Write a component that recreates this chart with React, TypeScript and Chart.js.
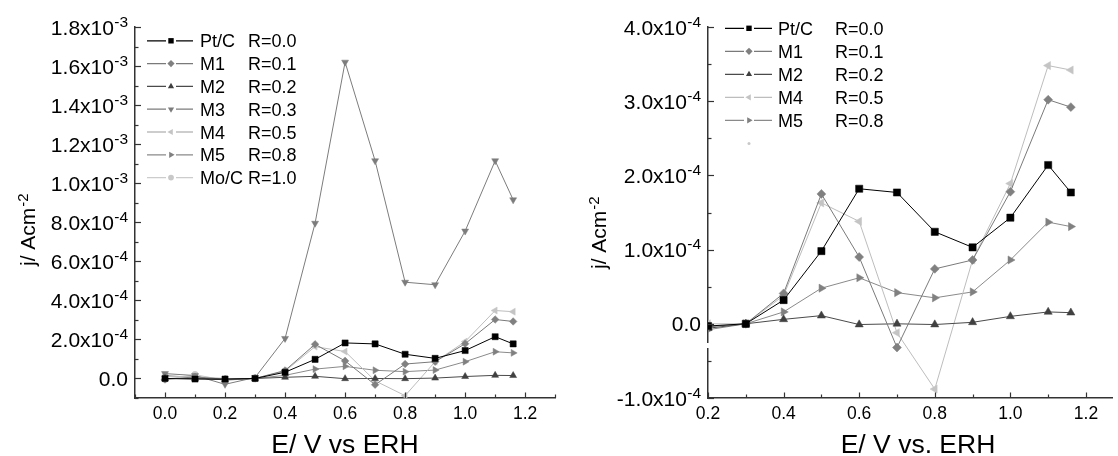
import React, { useEffect, useRef } from 'react';
import { Chart, registerables } from 'chart.js';

Chart.register(...registerables);

const FONT = '"Liberation Sans", Arial, Helvetica, sans-serif';

// ---------- data ----------
const xValues = [0.0, 0.1, 0.2, 0.3, 0.4, 0.5, 0.6, 0.7, 0.8, 0.9, 1.0, 1.1, 1.16];
const ptC = [0.0, -0.03e-4, -0.03e-4, 0.0, 0.32e-4, 0.98e-4, 1.82e-4, 1.77e-4, 1.24e-4, 1.03e-4, 1.43e-4, 2.14e-4, 1.77e-4];
const m1 = [-0.05e-4, 0.08e-4, -0.04e-4, 0.0, 0.41e-4, 1.75e-4, 0.9e-4, -0.32e-4, 0.74e-4, 0.86e-4, 1.78e-4, 3.02e-4, 2.92e-4];
const m2 = [0.0, 0.0, -0.06e-4, 0.0, 0.06e-4, 0.11e-4, -0.01e-4, 0.0, -0.01e-4, 0.02e-4, 0.1e-4, 0.16e-4, 0.15e-4];
const m3 = [0.25e-4, 0.15e-4, -0.3e-4, 0.05e-4, 2.05e-4, 7.95e-4, 16.2e-4, 11.15e-4, 4.93e-4, 4.8e-4, 7.55e-4, 11.15e-4, 9.15e-4];
const m4 = [0.1e-4, 0.1e-4, 0.0, 0.0, 0.38e-4, 1.63e-4, 1.38e-4, -0.12e-4, -0.88e-4, 0.86e-4, 1.89e-4, 3.48e-4, 3.42e-4];
const m5 = [0.15e-4, 0.05e-4, -0.08e-4, 0.0, 0.16e-4, 0.48e-4, 0.62e-4, 0.42e-4, 0.35e-4, 0.43e-4, 0.86e-4, 1.37e-4, 1.31e-4];
const moC = [-0.05e-4, 0.2e-4, -0.1e-4, 0.02e-4, null, null, null, null, null, null, null, null, null];

const seriesNames = ['Pt/C', 'M1', 'M2', 'M3', 'M4', 'M5', 'Mo/C'];
const seriesRatios = ['R=0.0', 'R=0.1', 'R=0.2', 'R=0.3', 'R=0.5', 'R=0.8', 'R=1.0'];
const seriesValues = [ptC, m1, m2, m3, m4, m5, moC];
const markerColors = ['#000000', '#808080', '#404040', '#7c7c7c', '#c4c4c4', '#808080', '#c8c8c8'];
const lineColors = ['#000000', '#7a7a7a', '#4a4a4a', '#7c7c7c', '#bdbdbd', '#8a8a8a', '#cccccc'];
const shapes = ['square', 'diamond', 'triUp', 'triDown', 'triLeft', 'triRight', 'circle'];
const rightSeries = [0, 1, 2, 4, 5];
const rightStartIndex = 2;

// tick labels
const leftYTicks = [0, 2e-4, 4e-4, 6e-4, 8e-4, 1.0e-3, 1.2e-3, 1.4e-3, 1.6e-3, 1.8e-3];
const leftYMain = ['0.0', '2.0x10', '4.0x10', '6.0x10', '8.0x10', '1.0x10', '1.2x10', '1.4x10', '1.6x10', '1.8x10'];
const leftYSup = ['', '-4', '-4', '-4', '-4', '-3', '-3', '-3', '-3', '-3'];
const leftYMinor = [-1e-4, 1e-4, 3e-4, 5e-4, 7e-4, 9e-4, 1.1e-3, 1.3e-3, 1.5e-3, 1.7e-3];
const leftXTicks = [0.0, 0.2, 0.4, 0.6, 0.8, 1.0, 1.2];
const leftXLabels = ['0.0', '0.2', '0.4', '0.6', '0.8', '1.0', '1.2'];
const leftXMinor = [-0.1, 0.1, 0.3, 0.5, 0.7, 0.9, 1.1, 1.3];

const rightYTicks = [-1e-4, 0, 1e-4, 2e-4, 3e-4, 4e-4];
const rightYMain = ['-1.0x10', '0.0', '1.0x10', '2.0x10', '3.0x10', '4.0x10'];
const rightYSup = ['-4', '', '-4', '-4', '-4', '-4'];
const rightYMinor = [-0.5e-4, 0.5e-4, 1.5e-4, 2.5e-4, 3.5e-4];
const rightXTicks = [0.2, 0.4, 0.6, 0.8, 1.0, 1.2];
const rightXLabels = ['0.2', '0.4', '0.6', '0.8', '1.0', '1.2'];
const rightXMinor = [0.3, 0.5, 0.7, 0.9, 1.1];

const yTitleMain = 'j/ Acm';
const yTitleSup = '-2';
const leftXTitle = 'E/ V vs ERH';
const rightXTitle = 'E/ V vs. ERH';

// ---------- helpers ----------
function drawShape(ctx: CanvasRenderingContext2D, shape: string, x: number, y: number, r: number, color: string) {
  ctx.save();
  ctx.fillStyle = color;
  ctx.beginPath();
  const tri = (rot: number) => {
    for (let k = 0; k < 3; k++) {
      const a = rot + (k * 2 * Math.PI) / 3;
      const px = x + Math.sin(a) * r;
      const py = y - Math.cos(a) * r;
      if (k === 0) ctx.moveTo(px, py);
      else ctx.lineTo(px, py);
    }
    ctx.closePath();
  };
  if (shape === 'square') {
    const s = r * 0.75;
    ctx.rect(x - s, y - s, 2 * s, 2 * s);
  } else if (shape === 'diamond') {
    ctx.moveTo(x, y - r);
    ctx.lineTo(x + r, y);
    ctx.lineTo(x, y + r);
    ctx.lineTo(x - r, y);
    ctx.closePath();
  } else if (shape === 'triUp') tri(0);
  else if (shape === 'triDown') tri(Math.PI);
  else if (shape === 'triLeft') tri(-Math.PI / 2);
  else if (shape === 'triRight') tri(Math.PI / 2);
  else ctx.arc(x, y, r * 0.8, 0, Math.PI * 2);
  ctx.fill();
  ctx.restore();
}

function pointStyleFor(shape: string): { style: any; rotation: number } {
  switch (shape) {
    case 'square': return { style: 'rect', rotation: 0 };
    case 'diamond': return { style: 'rectRot', rotation: 0 };
    case 'triUp': return { style: 'triangle', rotation: 0 };
    case 'triDown': return { style: 'triangle', rotation: 180 };
    case 'triLeft': return { style: 'triangle', rotation: -90 };
    case 'triRight': return { style: 'triangle', rotation: 90 };
    default: return { style: 'circle', rotation: 0 };
  }
}

type Deco = {
  yTicks: number[]; yMain: string[]; ySup: string[]; yMinor: number[];
  xTicks: number[]; xLabels: string[]; xMinor: number[];
  yLabelRight: number; yFont: number; supFont: number;
  xFont: number; xLabelBaseline: number;
  xTitle: string; xTitleX: number; xTitleBaseline: number;
  yTitleX: number; yTitleBottom: number;
  legendIdx: number[]; legendY0: number; legendStep: number;
  legX0: number; legMarker: number; legX1: number; legText: number; legR: number; legSize: number;
  extraDot?: { x: number; y: number };
  axisGap?: { y0: number; y1: number };
};

function makeDecoPlugin(d: Deco) {
  return {
    id: 'deco',
    afterDraw(chart: any) {
      const ctx: CanvasRenderingContext2D = chart.ctx;
      const xs = chart.scales.x;
      const ys = chart.scales.y;
      const { left, bottom } = chart.chartArea;
      ctx.save();
      if (d.axisGap) {
        ctx.fillStyle = '#ffffff';
        ctx.fillRect(left - 2, d.axisGap.y0, 4, d.axisGap.y1 - d.axisGap.y0);
      }
      ctx.strokeStyle = '#333333';
      ctx.lineWidth = 1.2;
      // y ticks (inward)
      d.yTicks.forEach((v) => {
        const py = Math.round(ys.getPixelForValue(v)) + 0.5;
        ctx.beginPath(); ctx.moveTo(left, py); ctx.lineTo(left + 6, py); ctx.stroke();
      });
      d.yMinor.forEach((v) => {
        const py = Math.round(ys.getPixelForValue(v)) + 0.5;
        ctx.beginPath(); ctx.moveTo(left, py); ctx.lineTo(left + 3.5, py); ctx.stroke();
      });
      d.xTicks.forEach((v) => {
        const px = Math.round(xs.getPixelForValue(v)) + 0.5;
        ctx.beginPath(); ctx.moveTo(px, bottom); ctx.lineTo(px, bottom - 5.5); ctx.stroke();
      });
      d.xMinor.forEach((v) => {
        const px = Math.round(xs.getPixelForValue(v)) + 0.5;
        ctx.beginPath(); ctx.moveTo(px, bottom); ctx.lineTo(px, bottom - 3.5); ctx.stroke();
      });
      // y tick labels
      ctx.fillStyle = '#000000';
      ctx.textAlign = 'right';
      ctx.textBaseline = 'alphabetic';
      d.yTicks.forEach((v, i) => {
        const py = ys.getPixelForValue(v);
        let xr = d.yLabelRight;
        if (d.ySup[i]) {
          ctx.font = `${d.supFont}px ${FONT}`;
          ctx.fillText(d.ySup[i], xr, py - 0.5);
          xr -= ctx.measureText(d.ySup[i]).width + 0.3;
        }
        ctx.font = `${d.yFont}px ${FONT}`;
        ctx.fillText(d.yMain[i], xr, py + 7.6);
      });
      // x tick labels
      ctx.textAlign = 'center';
      ctx.font = `${d.xFont}px ${FONT}`;
      d.xTicks.forEach((v, i) => {
        ctx.fillText(d.xLabels[i], xs.getPixelForValue(v), d.xLabelBaseline);
      });
      // x title
      ctx.font = `26.5px ${FONT}`;
      ctx.fillText(d.xTitle, d.xTitleX, d.xTitleBaseline);
      // y title rotated
      ctx.save();
      ctx.translate(d.yTitleX, d.yTitleBottom);
      ctx.rotate(-Math.PI / 2);
      ctx.textAlign = 'left';
      ctx.font = `21px ${FONT}`;
      ctx.fillText(yTitleMain, 0, 0);
      const w = ctx.measureText(yTitleMain).width;
      ctx.font = `15px ${FONT}`;
      ctx.fillText(yTitleSup, w + 1, -7);
      ctx.restore();
      // legend
      d.legendIdx.forEach((si, row) => {
        const y = d.legendY0 + row * d.legendStep;
        ctx.strokeStyle = lineColors[si];
        ctx.lineWidth = 1.3;
        ctx.beginPath();
        ctx.moveTo(d.legX0, y); ctx.lineTo(d.legMarker - 5, y);
        ctx.moveTo(d.legMarker + 5, y); ctx.lineTo(d.legX1, y);
        ctx.stroke();
        drawShape(ctx, shapes[si], d.legMarker, y, d.legSize, markerColors[si]);
        ctx.fillStyle = '#000000';
        ctx.textAlign = 'left';
        ctx.font = `18px ${FONT}`;
        ctx.fillText(seriesNames[si], d.legText, y + 6.5);
        ctx.fillText(seriesRatios[si], d.legR, y + 6.5);
      });
      if (d.extraDot) {
        ctx.fillStyle = '#c8c8c8';
        ctx.beginPath();
        ctx.arc(d.extraDot.x, d.extraDot.y, 1.5, 0, Math.PI * 2);
        ctx.fill();
      }
      ctx.restore();
    },
  };
}

function buildDatasets(indices: number[], start: number, radius: number) {
  return indices.map((si) => {
    const ps = pointStyleFor(shapes[si]);
    let r = radius;
    if (shapes[si] === 'square') r = radius * 1.08;
    if (shapes[si] === 'diamond') r = radius * 0.95;
    if (shapes[si] === 'circle') r = radius * 0.8;
    return {
      label: seriesNames[si],
      data: xValues.slice(start).map((x, k) => ({ x, y: seriesValues[si][k + start] })),
      borderColor: lineColors[si],
      backgroundColor: markerColors[si],
      borderWidth: 1,
      pointStyle: ps.style,
      rotation: ps.rotation,
      pointRotation: ps.rotation,
      pointRadius: r,
      pointBorderWidth: 0.5,
      pointBorderColor: markerColors[si],
      pointBackgroundColor: markerColors[si],
      tension: 0,
      fill: false,
      spanGaps: false,
    };
  });
}

function makeConfig(opts: {
  datasets: any[]; xMin: number; xMax: number; yMin: number; yMax: number;
  yWidth: number; rightPad: number; deco: Deco;
}) {
  const axisBorder = { display: true, color: '#333333', width: 1.5 };
  return {
    type: 'line',
    data: { datasets: opts.datasets },
    options: {
      animation: false,
      responsive: false,
      maintainAspectRatio: false,
      layout: { padding: { top: 27, right: opts.rightPad, left: 0, bottom: 0 } },
      plugins: { legend: { display: false }, tooltip: { enabled: false } },
      scales: {
        x: {
          type: 'linear', min: opts.xMin, max: opts.xMax,
          ticks: { display: false },
          grid: { display: false, drawTicks: false },
          border: axisBorder,
          afterFit: (s: any) => { s.height = 58; },
        },
        y: {
          type: 'linear', min: opts.yMin, max: opts.yMax,
          ticks: { display: false },
          grid: { display: false, drawTicks: false },
          border: axisBorder,
          afterFit: (s: any) => { s.width = opts.yWidth; },
        },
      },
    },
    plugins: [makeDecoPlugin(opts.deco)],
  };
}

function ChartCanvas({ config, width, height, left }: { config: () => any; width: number; height: number; left: number }) {
  const ref = useRef<HTMLCanvasElement | null>(null);
  useEffect(() => {
    if (!ref.current) return;
    const chart = new Chart(ref.current, config());
    return () => chart.destroy();
  }, []);
  return (
    <div style={{ position: 'absolute', left, top: 0, width, height }}>
      <canvas ref={ref} width={width} height={height} style={{ width, height, display: 'block' }} />
    </div>
  );
}

export default function App() {
  const leftCfg = () =>
    makeConfig({
      datasets: buildDatasets([0, 1, 2, 3, 4, 5, 6], 0, 4),
      xMin: -0.1, xMax: 1.3, yMin: -1e-4, yMax: 1.8e-3,
      yWidth: 135, rightPad: 2,
      deco: {
        yTicks: leftYTicks, yMain: leftYMain, ySup: leftYSup, yMinor: leftYMinor,
        xTicks: leftXTicks, xLabels: leftXLabels, xMinor: leftXMinor,
        yLabelRight: 128, yFont: 21, supFont: 15.5, xFont: 17.5, xLabelBaseline: 419,
        xTitle: leftXTitle, xTitleX: 345, xTitleBaseline: 453,
        yTitleX: 35, yTitleBottom: 266,
        legendIdx: [0, 1, 2, 3, 4, 5, 6], legendY0: 40.8, legendStep: 22.8,
        legX0: 147, legMarker: 171, legX1: 193, legText: 200, legR: 248, legSize: 3.6,
      },
    });
  const rightCfg = () =>
    makeConfig({
      datasets: buildDatasets(rightSeries, rightStartIndex, 4.7),
      xMin: 0.2, xMax: 1.27, yMin: -1e-4, yMax: 4e-4,
      yWidth: 148, rightPad: 0,
      deco: {
        yTicks: rightYTicks, yMain: rightYMain, ySup: rightYSup, yMinor: rightYMinor,
        xTicks: rightXTicks, xLabels: rightXLabels, xMinor: rightXMinor,
        yLabelRight: 141, yFont: 21, supFont: 15.5, xFont: 17.5, xLabelBaseline: 419,
        xTitle: rightXTitle, xTitleX: 358, xTitleBaseline: 453,
        yTitleX: 46, yTitleBottom: 269,
        legendIdx: rightSeries, legendY0: 28.3, legendStep: 23,
        legX0: 165, legMarker: 189, legX1: 212, legText: 218, legR: 275, legSize: 3.6,
        extraDot: { x: 189, y: 143.5 },
        axisGap: { y0: 343, y1: 348 },
      },
    });
  return (
    <div style={{ position: 'absolute', left: 0, top: 0, width: 1118, height: 456, background: '#ffffff', overflow: 'hidden' }}>
      <ChartCanvas config={leftCfg} width={560} height={456} left={0} />
      <ChartCanvas config={rightCfg} width={558} height={456} left={560} />
    </div>
  );
}
